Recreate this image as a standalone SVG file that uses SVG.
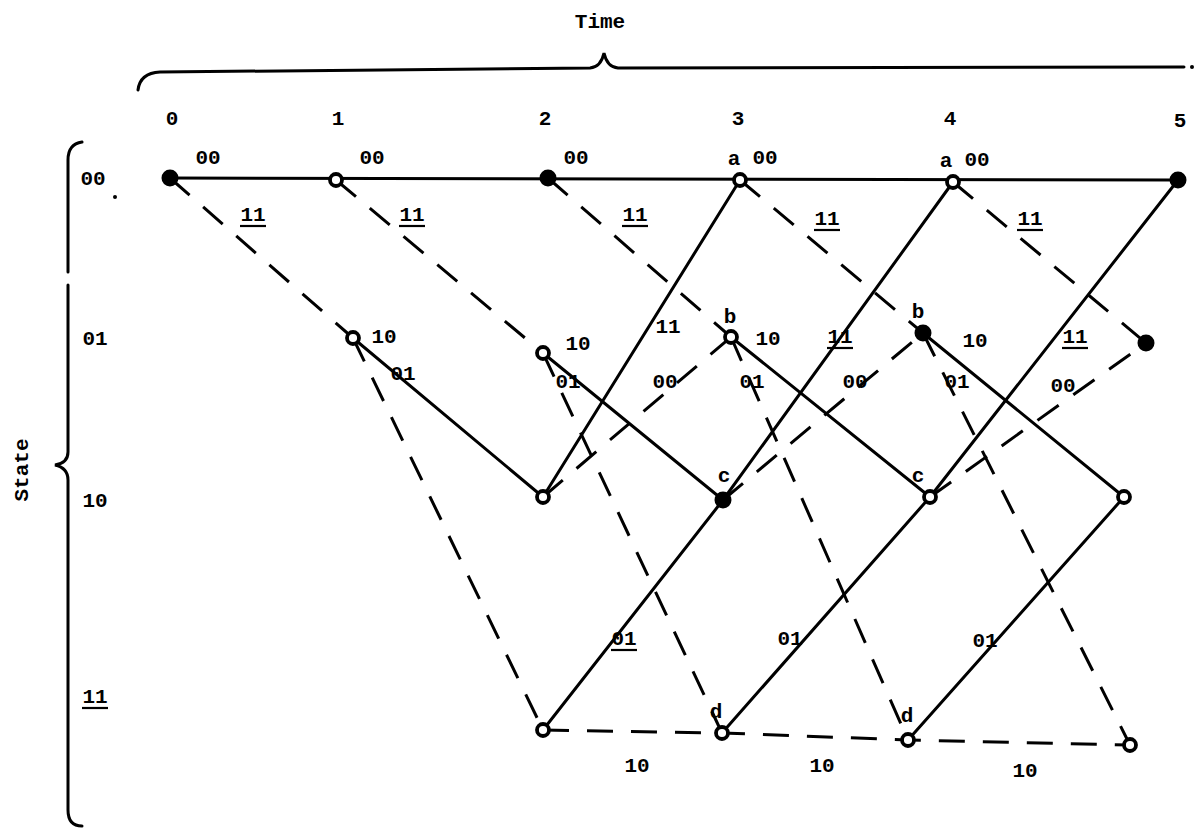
<svg xmlns="http://www.w3.org/2000/svg" width="1200" height="830" viewBox="0 0 1200 830">
<style>
.s{stroke:#000;stroke-width:3;fill:none;stroke-linecap:round}
.d{stroke:#000;stroke-width:3;fill:none;stroke-dasharray:26 18}
.t{font-family:"Liberation Mono","DejaVu Sans Mono",monospace;font-size:21px;font-weight:bold;fill:#000;text-anchor:middle}
.u{stroke:#000;stroke-width:2.2}
.f{fill:#000;stroke:#000;stroke-width:2}
.o{fill:#fff;stroke:#000;stroke-width:3.8}
</style>
<rect width="1200" height="830" fill="#fff"/>
<g id="axes">
<text class="t" x="600" y="28" font-size="18">Time</text>
<path class="s" d="M138,90 Q140,73 160,72 L590,68 Q601,67 604,53 Q607,67 618,68 L1184,67"/>
<circle cx="1192" cy="67" r="2" fill="#000"/>
<path class="s" d="M82,142 Q68,144 68,160 L68,272"/>
<path class="s" d="M68,285 L68,452 Q68,463 55,465 Q68,468 68,480 L68,810 Q68,826 82,826"/>
<text class="t" transform="translate(28,470) rotate(-90)" font-size="20">State</text>
<text class="t" x="172" y="125">0</text>
<text class="t" x="338" y="125">1</text>
<text class="t" x="545" y="125">2</text>
<text class="t" x="738" y="125">3</text>
<text class="t" x="950" y="125">4</text>
<text class="t" x="1180" y="127">5</text>
<text class="t" x="93" y="185">00</text>
<text class="t" x="95" y="345">01</text>
<text class="t" x="95" y="507">10</text>
<text class="t" x="95" y="703">11</text>
<line class="u" x1="82" y1="708" x2="108" y2="708"/>
<circle cx="115" cy="197" r="2" fill="#000"/>
</g>
<g id="connectors">
<line class="s" x1="170" y1="178" x2="1178" y2="180"/>
<line class="d" x1="170" y1="178" x2="353" y2="338"/>
<line class="d" x1="336" y1="180" x2="543" y2="353"/>
<line class="d" x1="548" y1="178" x2="731" y2="337"/>
<line class="d" x1="740" y1="180" x2="923" y2="333"/>
<line class="d" x1="953" y1="182" x2="1146" y2="343"/>
<line class="s" x1="353" y1="338" x2="543" y2="497"/>
<line class="s" x1="543" y1="353" x2="723" y2="500"/>
<line class="s" x1="731" y1="337" x2="930" y2="497"/>
<line class="s" x1="923" y1="333" x2="1124" y2="497"/>
<line class="d" x1="353" y1="338" x2="543" y2="730"/>
<line class="d" x1="543" y1="353" x2="722" y2="733"/>
<line class="d" x1="731" y1="337" x2="908" y2="740"/>
<line class="d" x1="923" y1="333" x2="1130" y2="745"/>
<line class="s" x1="543" y1="497" x2="740" y2="180"/>
<line class="s" x1="723" y1="500" x2="953" y2="182"/>
<line class="s" x1="930" y1="497" x2="1178" y2="180"/>
<line class="d" x1="543" y1="497" x2="731" y2="337"/>
<line class="d" x1="723" y1="500" x2="923" y2="333"/>
<line class="d" x1="930" y1="497" x2="1146" y2="343"/>
<line class="s" x1="543" y1="730" x2="723" y2="500"/>
<line class="s" x1="722" y1="733" x2="930" y2="497"/>
<line class="s" x1="908" y1="740" x2="1124" y2="497"/>
<polyline class="d" points="543,730 722,733 908,740 1130,745"/>
</g>
<g id="n0-00"><circle class="f" cx="170" cy="178" r="7.5"/></g>
<g id="n1-00"><circle class="o" cx="336" cy="180" r="6"/></g>
<g id="n2-00"><circle class="f" cx="548" cy="178" r="7.5"/></g>
<g id="n3-00"><circle class="o" cx="740" cy="180" r="6"/><text class="t" x="734" y="165">a</text></g>
<g id="n4-00"><circle class="o" cx="953" cy="182" r="6"/><text class="t" x="946" y="167">a</text></g>
<g id="n5-00"><circle class="f" cx="1178" cy="180" r="7.5"/></g>
<g id="n1-01"><circle class="o" cx="353" cy="338" r="6"/></g>
<g id="n2-01"><circle class="o" cx="543" cy="353" r="6"/></g>
<g id="n3-01"><circle class="o" cx="731" cy="337" r="6"/><text class="t" x="730" y="323">b</text></g>
<g id="n4-01"><circle class="f" cx="923" cy="333" r="7.5"/><text class="t" x="918" y="318">b</text></g>
<g id="n5-01"><circle class="f" cx="1146" cy="343" r="7.5"/></g>
<g id="n2-10"><circle class="o" cx="543" cy="497" r="6"/></g>
<g id="n3-10"><circle class="f" cx="723" cy="500" r="7.5"/><text class="t" x="724" y="482">c</text></g>
<g id="n4-10"><circle class="o" cx="930" cy="497" r="6"/><text class="t" x="918" y="482">c</text></g>
<g id="n5-10"><circle class="o" cx="1124" cy="497" r="6"/></g>
<g id="n2-11"><circle class="o" cx="543" cy="730" r="6"/></g>
<g id="n3-11"><circle class="o" cx="722" cy="733" r="6"/><text class="t" x="716" y="718">d</text></g>
<g id="n4-11"><circle class="o" cx="908" cy="740" r="6"/><text class="t" x="907" y="722">d</text></g>
<g id="n5-11"><circle class="o" cx="1130" cy="745" r="6"/></g>
<g id="labels">
<text class="t" x="208" y="164">00</text>
<text class="t" x="372" y="164">00</text>
<text class="t" x="576" y="164">00</text>
<text class="t" x="765" y="164">00</text>
<text class="t" x="977" y="166">00</text>
<text class="t" x="253" y="221">11</text><line class="u" x1="240" y1="226" x2="266" y2="226"/>
<text class="t" x="412" y="221">11</text><line class="u" x1="399" y1="226" x2="425" y2="226"/>
<text class="t" x="635" y="221">11</text><line class="u" x1="622" y1="226" x2="648" y2="226"/>
<text class="t" x="827" y="225">11</text><line class="u" x1="814" y1="230" x2="840" y2="230"/>
<text class="t" x="1030" y="225">11</text><line class="u" x1="1017" y1="230" x2="1043" y2="230"/>
<text class="t" x="384" y="343">10</text>
<text class="t" x="578" y="350">10</text>
<text class="t" x="768" y="345">10</text>
<text class="t" x="975" y="347">10</text>
<text class="t" x="403" y="380">01</text>
<text class="t" x="568" y="388">01</text>
<text class="t" x="752" y="388">01</text>
<text class="t" x="957" y="388">01</text>
<text class="t" x="665" y="388">00</text>
<text class="t" x="855" y="388">00</text>
<text class="t" x="1063" y="392">00</text>
<text class="t" x="668" y="333">11</text>
<text class="t" x="840" y="343">11</text><line class="u" x1="827" y1="348" x2="853" y2="348"/>
<text class="t" x="1075" y="343">11</text><line class="u" x1="1062" y1="348" x2="1088" y2="348"/>
<text class="t" x="624" y="645">01</text><line class="u" x1="611" y1="650" x2="637" y2="650"/>
<text class="t" x="790" y="645">01</text>
<text class="t" x="985" y="647">01</text>
<text class="t" x="637" y="772">10</text>
<text class="t" x="822" y="772">10</text>
<text class="t" x="1025" y="777">10</text>
</g>
</svg>
